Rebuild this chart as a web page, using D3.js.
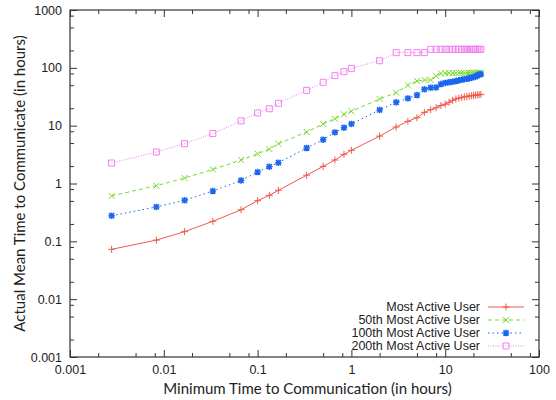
<!DOCTYPE html>
<html>
<head>
<meta charset="utf-8">
<script src="https://cdn.jsdelivr.net/npm/d3@7/dist/d3.min.js"></script>
<style>
  html, body { margin: 0; padding: 0; background: #fff; }
  svg { display: block; }
  .tick-label { font-family: "Liberation Sans", Arial, sans-serif; font-size: 12.5px; fill: #222; }
  .axis-title { font-family: Lato, "Open Sans", sans-serif; font-size: 15px; fill: #222; }
  .legend-label { font-family: "Liberation Sans", Arial, sans-serif; font-size: 12.5px; fill: #222; }
</style>
</head>
<body>
<svg id="chart" width="556" height="400"></svg>
<script>
// Threshold times (hours): 10s, 30s, 1m, 2m, 4m, 6m, 8m, 10m, 20m, 30m, 40m, 50m, then 1h..24h
const times = [
  0.002778, 0.008333, 0.016667, 0.033333, 0.066667, 0.1, 0.133333, 0.166667,
  0.333333, 0.5, 0.666667, 0.833333,
  1, 2, 3, 4, 5, 6, 7, 8, 9, 10, 11, 12,
  13, 14, 15, 16, 17, 18, 19, 20, 21, 22, 23, 24
];

const seriesNames = [
  "Most Active User",
  "50th Most Active User",
  "100th Most Active User",
  "200th Most Active User"
];

const mostActive = [
  0.0728, 0.105, 0.147, 0.222, 0.352, 0.504, 0.625, 0.762,
  1.39, 1.98, 2.55, 3.2,
  3.75, 6.6, 9.5, 11.9, 13.7, 17.0, 18.9, 20.4, 22.3, 23.5, 25.4, 27.5,
  29.0, 30.0, 30.8, 31.4, 32.0, 32.5, 33.0, 33.3, 33.7, 34.0, 34.3, 34.7
];

const active50th = [
  0.61, 0.916, 1.245, 1.75, 2.55, 3.27, 3.95, 4.88,
  7.76, 10.7, 13.2, 15.7,
  17.7, 28.9, 37.2, 49.8, 59.1, 61.6, 61.6, 72.3, 80.0, 80.5, 81.0, 81.0,
  81.0, 81.5, 81.5, 81.5, 82.0, 82.0, 82.0, 82.0, 82.0, 82.0, 82.0, 82.0
];

const active100th = [
  0.277, 0.393, 0.512, 0.741, 1.13, 1.58, 1.95, 2.29,
  4.11, 5.72, 7.67, 9.22,
  10.7, 18.7, 25.4, 29.7, 33.9, 42.5, 45.3, 45.8, 52.5, 54.7, 56.2, 57.6,
  59.2, 60.9, 62.3, 63.6, 64.6, 65.9, 67.5, 68.9, 70.8, 73.6, 76.0, 78.2
];

const active200th = [
  2.26, 3.5, 4.88, 7.3, 12.1, 16.6, 19.6, 24.4,
  40.8, 56.2, 73.2, 85.8,
  98.1, 132.7, 183, 183, 183, 183, 209, 209, 209, 209, 209, 209,
  209, 209, 209, 209, 209, 209, 209, 209, 209, 209, 209, 209
];

const xTickValues = [0.001, 0.01, 0.1, 1, 10, 100];
const xTickLabels = ["0.001", "0.01", "0.1", "1", "10", "100"];
const yTickValues = [0.001, 0.01, 0.1, 1, 10, 100, 1000];
const yTickLabels = ["0.001", "0.01", "0.1", "1", "10", "100", "1000"];

const xTitle = "Minimum Time to Communication (in hours)";
const yTitle = "Actual Mean Time to Communicate (in hours)";

// ---- layout ----
const plotLeft = 70, plotRight = 539, plotTop = 10, plotBottom = 357;
const svg = d3.select("#chart");

const x = d3.scaleLog().domain([0.001, 100]).range([plotLeft, plotRight]);
const y = d3.scaleLog().domain([0.001, 1000]).range([plotBottom, plotTop]);

// minor ticks at 2, 5, 8 times each decade
function minorTicks(dom) {
  const out = [];
  for (let e = Math.log10(dom[0]); e < Math.log10(dom[1]); e++) {
    [2, 5, 8].forEach(m => out.push(m * Math.pow(10, e)));
  }
  return out;
}

const axisColor = "#333";

function styleAxis(g) {
  g.select(".domain").remove();
  g.selectAll(".tick line").attr("stroke", axisColor).attr("stroke-width", 1);
}

function styleLabels(g) {
  g.attr("font-size", null).attr("font-family", null);
  g.selectAll("text").attr("class", "tick-label").attr("fill", null);
}

// major ticks with labels (bottom, left)
svg.append("g")
  .attr("transform", `translate(0,${plotBottom})`)
  .call(d3.axisBottom(x).tickValues(xTickValues)
    .tickFormat((d, i) => xTickLabels[i]).tickSizeInner(-7).tickSizeOuter(0).tickPadding(8))
  .call(styleAxis)
  .call(styleLabels);

svg.append("g")
  .attr("transform", `translate(${plotLeft},0)`)
  .call(d3.axisLeft(y).tickValues(yTickValues)
    .tickFormat((d, i) => yTickLabels[i]).tickSizeInner(-7).tickSizeOuter(0).tickPadding(8))
  .call(styleAxis)
  .call(styleLabels);

// mirrored major ticks (top, right)
svg.append("g")
  .attr("transform", `translate(0,${plotTop})`)
  .call(d3.axisTop(x).tickValues(xTickValues).tickFormat("").tickSizeInner(-7).tickSizeOuter(0))
  .call(styleAxis);
svg.append("g")
  .attr("transform", `translate(${plotRight},0)`)
  .call(d3.axisRight(y).tickValues(yTickValues).tickFormat("").tickSizeInner(-7).tickSizeOuter(0))
  .call(styleAxis);

// minor ticks on all four sides
const xMinor = minorTicks(x.domain());
const yMinor = minorTicks(y.domain());
[[d3.axisBottom(x), plotBottom], [d3.axisTop(x), plotTop]].forEach(([ax, pos]) => {
  svg.append("g").attr("transform", `translate(0,${pos})`)
    .call(ax.tickValues(xMinor).tickFormat("").tickSizeInner(-4).tickSizeOuter(0))
    .call(styleAxis);
});
[[d3.axisLeft(y), plotLeft], [d3.axisRight(y), plotRight]].forEach(([ax, pos]) => {
  svg.append("g").attr("transform", `translate(${pos},0)`)
    .call(ax.tickValues(yMinor).tickFormat("").tickSizeInner(-4).tickSizeOuter(0))
    .call(styleAxis);
});

// frame
svg.append("rect")
  .attr("x", plotLeft).attr("y", plotTop)
  .attr("width", plotRight - plotLeft).attr("height", plotBottom - plotTop)
  .attr("fill", "none").attr("stroke", axisColor).attr("stroke-width", 1.2);

// axis titles
svg.append("text").attr("class", "axis-title")
  .attr("x", (plotLeft + plotRight) / 2 + 3).attr("y", 394)
  .attr("text-anchor", "middle").text(xTitle);
svg.append("text").attr("class", "axis-title")
  .attr("transform", `translate(25,${(plotTop + plotBottom) / 2}) rotate(-90)`)
  .attr("text-anchor", "middle").text(yTitle);

// ---- series ----
const markers = {
  plus: s => `M${-s},0H${s}M0,${-s}V${s}`,
  cross: s => `M${-s},${-s}L${s},${s}M${-s},${s}L${s},${-s}`,
  star: s => `M${-s},0H${s}M0,${-s}V${s}M${-s*0.8},${-s*0.8}L${s*0.8},${s*0.8}M${-s*0.8},${s*0.8}L${s*0.8},${-s*0.8}`,
  square: s => `M${-s},${-s}H${s}V${s}H${-s}Z`
};

const series = [
  { name: seriesNames[0], values: mostActive, color: "#ee5a4c", dash: null, marker: "plus", size: 3.5, mw: 1 },
  { name: seriesNames[1], values: active50th, color: "#77d92b", dash: "4,3", marker: "cross", size: 3, mw: 1 },
  { name: seriesNames[2], values: active100th, color: "#1a66ee", dash: "1.5,3", marker: "star", size: 3.2, mw: 1.6 },
  { name: seriesNames[3], values: active200th, color: "#ee82ee", dash: "1,1.5", marker: "square", size: 3, mw: 1 }
];

const line = d3.line().x(d => x(d[0])).y(d => y(d[1]));

series.forEach(s => {
  const pts = times.map((t, i) => [t, s.values[i]]);
  const g = svg.append("g");
  g.append("path")
    .attr("d", line(pts))
    .attr("fill", "none")
    .attr("stroke", s.color)
    .attr("stroke-width", 1)
    .attr("stroke-dasharray", s.dash);
  g.selectAll("path.mk").data(pts).join("path")
    .attr("class", "mk")
    .attr("transform", d => `translate(${x(d[0])},${y(d[1])})`)
    .attr("d", markers[s.marker](s.size))
    .attr("fill", "none")
    .attr("stroke", s.color)
    .attr("stroke-width", s.mw);
});

// ---- legend ----
const legendTextX = 480, legendLineX0 = 488, legendLineX1 = 524;
const legendY0 = 307, legendStep = 13;
series.forEach((s, i) => {
  const ly = legendY0 + i * legendStep;
  svg.append("text").attr("class", "legend-label")
    .attr("x", legendTextX).attr("y", ly).attr("dy", "0.35em")
    .attr("text-anchor", "end").text(s.name);
  svg.append("line")
    .attr("x1", legendLineX0).attr("x2", legendLineX1)
    .attr("y1", ly).attr("y2", ly)
    .attr("stroke", s.color).attr("stroke-width", 1)
    .attr("stroke-dasharray", s.dash);
  svg.append("path")
    .attr("transform", `translate(${(legendLineX0 + legendLineX1) / 2},${ly})`)
    .attr("d", markers[s.marker](s.size))
    .attr("fill", "none").attr("stroke", s.color).attr("stroke-width", s.mw);
});
</script>
</body>
</html>
